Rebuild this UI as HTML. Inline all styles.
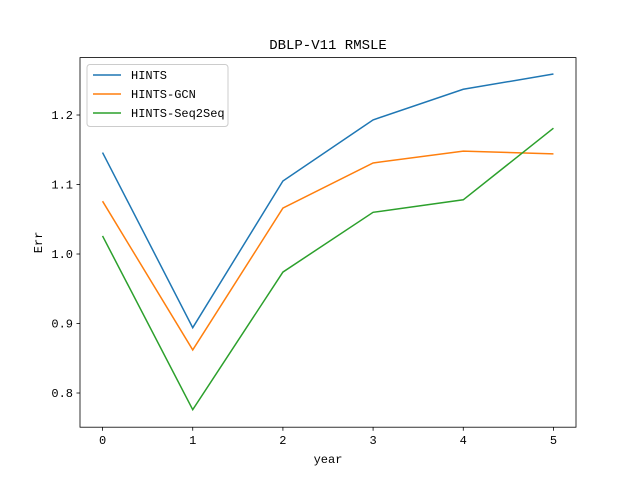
<!DOCTYPE html>
<html><head><meta charset="utf-8"><style>
body{margin:0;background:#fff;}
svg text{font-family:"Liberation Mono","WenQuanYi Zen Hei",monospace;font-size:12px;fill:#000;}
</style></head><body>
<svg id="chart" width="640" height="480"></svg>
<script>
const years=[0,1,2,3,4,5];
const hints=[1.146,0.894,1.105,1.193,1.237,1.259];
const hintsGcn=[1.076,0.862,1.066,1.131,1.148,1.144];
const hintsSeq=[1.026,0.776,0.974,1.060,1.078,1.181];
const yTicks=[0.8,0.9,1.0,1.1,1.2];
const seriesNames=["HINTS","HINTS-GCN","HINTS-Seq2Seq"];
const colors=["#1f77b4","#ff7f0e","#2ca02c"];
const L=80,R=576,T=57.6,B=427.2;
const xmin=-0.25,xmax=5.25,ymin=0.7508,ymax=1.2826;
const X=v=>L+(v-xmin)/(xmax-xmin)*(R-L);
const Y=v=>B-(v-ymin)/(ymax-ymin)*(B-T);
const svg=document.getElementById('chart');
const NS='http://www.w3.org/2000/svg';
function mk(t,a,p){const e=document.createElementNS(NS,t);for(const k in a)e.setAttribute(k,a[k]);(p||svg).appendChild(e);return e;}
const title=mk('text',{x:(L+R)/2,y:49,'text-anchor':'middle',style:'font-size:14px'});title.textContent='DBLP-V11 RMSLE';


[hints,hintsGcn,hintsSeq].forEach((s,i)=>{
 const p=mk('polyline',{points:s.map((v,j)=>X(years[j])+','+Y(v)).join(' '),fill:'none',stroke:colors[i],'stroke-width':1.5});
 
 
});
const frame=mk('rect',{x:L,y:T,width:R-L,height:B-T,fill:'none',stroke:'#000','stroke-width':0.8});


years.forEach(v=>{
 mk('line',{x1:X(v),x2:X(v),y1:B,y2:B+3.5,stroke:'#000','stroke-width':0.8});
 const t=mk('text',{x:X(v),y:B+17,'text-anchor':'middle'});t.textContent=v;
 
 
});
yTicks.forEach(v=>{
 mk('line',{x1:L-3.5,x2:L,y1:Y(v),y2:Y(v),stroke:'#000','stroke-width':0.8});
 const t=mk('text',{x:L-7,y:Y(v)+4,'text-anchor':'end'});t.textContent=v.toFixed(1);
 
 
});
const xl=mk('text',{x:(L+R)/2,y:463,'text-anchor':'middle'});xl.textContent='year';


const yl=mk('text',{x:0,y:0,'text-anchor':'middle',transform:'translate(42,'+((T+B)/2)+') rotate(-90)'});yl.textContent='Err';


const lg=mk('g',{});


mk('rect',{x:87,y:64.5,width:141,height:62,rx:3,fill:'#fff','fill-opacity':0.8,stroke:'#ccc'},lg);
seriesNames.forEach((n,i)=>{
 const y=75+i*19;
 mk('line',{x1:93,x2:121,y1:y,y2:y,stroke:colors[i],'stroke-width':1.5},lg);
 const t=mk('text',{x:131,y:y+4},lg);t.textContent=n;
 
 
});
</script>
</body></html>
